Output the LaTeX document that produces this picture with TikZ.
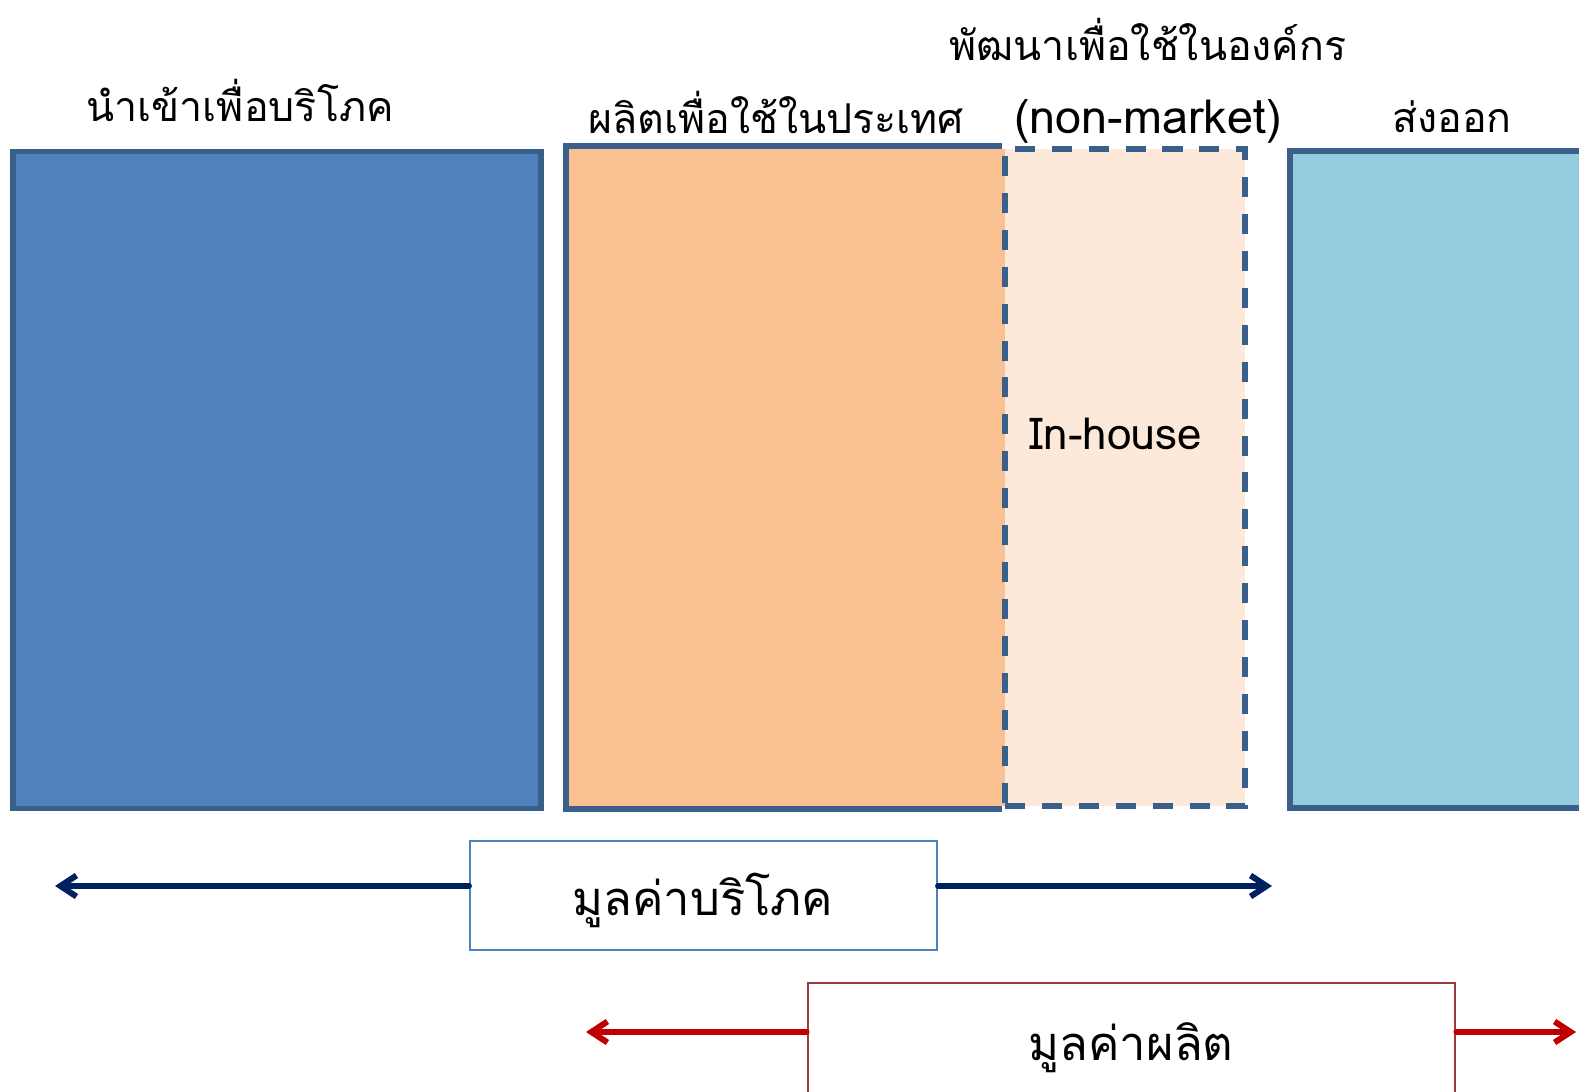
\documentclass[tikz,border=0pt]{standalone}
\usepackage{fontspec}
\newfontfamily\thaifont[Script=Thai]{Loma}
\usetikzlibrary{arrows.meta}
\definecolor{importblue}{HTML}{4F81BD}
\definecolor{barline}{HTML}{3A5F8B}
\definecolor{domorange}{HTML}{F9C091}
\definecolor{housepeach}{HTML}{FDE9DA}
\definecolor{exportcyan}{HTML}{93CDDD}
\definecolor{consnavy}{HTML}{002060}
\definecolor{prodred}{HTML}{C00000}
\definecolor{prodframe}{HTML}{9B3B3B}
\tikzset{
  bar/.style={line width=1.6pt, minimum height=6.57cm, inner sep=0pt},
  head/.style={anchor=base, inner sep=0pt, font=\thaifont\fontsize{11.7}{14}\selectfont},
  latinhead/.style={anchor=base, inner sep=0pt, font=\thaifont\fontsize{13.3}{16}\selectfont},
  valbox/.style={fill=white, inner sep=0pt},
  valtext/.style={anchor=base, inner sep=0pt, font=\thaifont\fontsize{13.4}{16}\selectfont},
  arr/.style={line width=1.7pt, line cap=round, -{Straight Barb[length=1.6mm,width=2.1mm]}}
}
\begin{document}
\begin{tikzpicture}
	\clip (0,0) rectangle (15.79,-10.92);
	\fill[white] (0,0) rectangle (15.79,-10.92);
	% the four bars
	\node[bar, draw=barline, fill=importblue, minimum width=5.28cm] (import) at (2.77,-4.80) {};
	\node[bar, fill=domorange, minimum width=4.36cm] (domestic) at (7.87,-4.775) {};
	\node[bar, draw=barline, dashed, dash pattern=on 5.7pt off 4.8pt, fill=housepeach, minimum width=2.40cm] (inhouse) at (11.25,-4.775) {};
	\draw[barline, line width=1.6pt] (inhouse.north west) -- (domestic.north west) -- (domestic.south west) -- (inhouse.south west);
	\node[bar, draw=barline, fill=exportcyan, minimum width=3.2cm] (export) at (14.50,-4.795) {};
	% headings
	\node[head] (importlbl) at (2.40,-1.22) {นำเข้าเพื่อบริโภค};
	\node[head] (domesticlbl) at (7.76,-1.34) {ผลิตเพื่อใช้ในประเทศ};
	\node[head] (inhouselbl) at (11.48,-0.61) {พัฒนาเพื่อใช้ในองค์กร};
	\node[latinhead] (nonmarket) at (11.48,-1.34) {(non-market)};
	\node[head] (exportlbl) at (14.52,-1.33) {ส่งออก};
	\node[head, font=\thaifont\fontsize{12.5}{15}\selectfont] (inhousetxt) at (11.16,-4.50) {In-house};
	% value ranges
	\node[valbox, draw=importblue, line width=0.6pt, minimum width=4.67cm, minimum height=1.09cm] (consval) at (7.035,-8.955) {};
	\node[valtext] (constxt) at (7.03,-9.15) {มูลค่าบริโภค};
	\coordinate (consL) at (0.55,-8.86);
	\coordinate (consR) at (12.72,-8.86);
	\draw[arr, consnavy] (consval.west |- consL) -- (consL);
	\draw[arr, consnavy] (consval.east |- consR) -- (consR);
	\node[valbox, draw=prodframe, line width=0.8pt, minimum width=6.47cm, minimum height=1.3cm] (prodval) at (11.315,-10.48) {};
	\node[valtext] (prodtxt) at (11.31,-10.60) {มูลค่าผลิต};
	\coordinate (prodL) at (5.86,-10.32);
	\coordinate (prodR) at (15.76,-10.32);
	\draw[arr, prodred] (prodval.west |- prodL) -- (prodL);
	\draw[arr, prodred] (prodval.east |- prodR) -- (prodR);
\end{tikzpicture}
\end{document}
